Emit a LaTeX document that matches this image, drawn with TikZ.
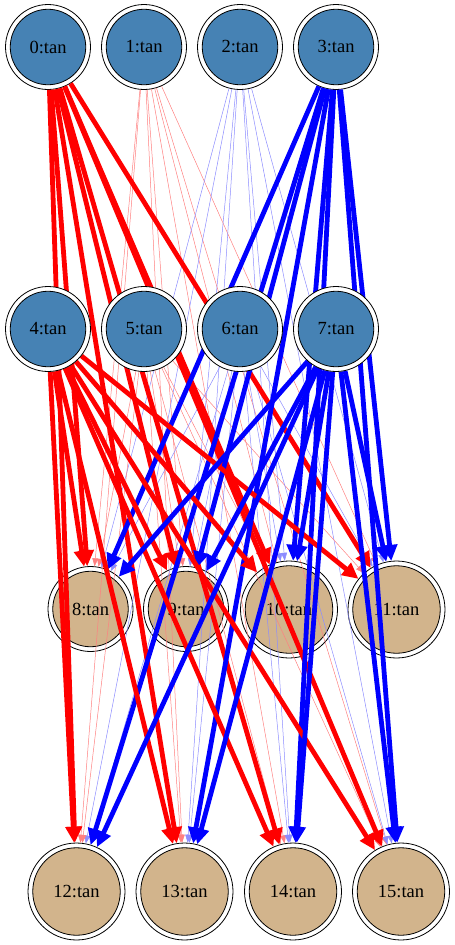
\documentclass[tikz,border=0pt]{standalone}
\usepackage{fontspec}
\setmainfont{Liberation Serif}
\usetikzlibrary{arrows.meta}
\definecolor{steelb}{HTML}{4682B4}
\definecolor{tanc}{HTML}{D2B48C}
\pgfdeclarelayer{bottom}
\pgfdeclarelayer{middle}
\pgfsetlayers{bottom,middle,main}
\tikzset{
  outerc/.style={circle, draw=black, line width=0.8pt, inner sep=0pt, fill=white},
  innerc/.style={circle, draw=black, line width=0.8pt, inner sep=0pt,
    font=\fontsize{18.5}{20}\selectfont},
  thickred/.style={draw=red, line width=4.8pt, -{Triangle[length=16pt,width=15pt]}},
  thickblue/.style={draw=blue, line width=4.8pt, -{Triangle[length=16pt,width=15pt]}},
  thinred/.style={draw=red!50, line width=0.5pt, -{Triangle[length=8pt,width=6pt]}},
  thinblue/.style={draw=blue!45, line width=0.5pt, -{Triangle[length=8pt,width=6pt]}},
}
\begin{document}
\begin{tikzpicture}[x=1pt,y=-1pt]
\useasboundingbox (0,0) rectangle (455,945);
% nodes under the edges: rows 1, 3 and 4
\begin{pgfonlayer}{bottom}
\foreach \n/\x/\y/\d/\di/\c in {
  0/48/47/85/75.5/steelb, 1/144/47/85/75.5/steelb, 2/240/47/85/75.5/steelb, 3/336/47/85/75.5/steelb,
  8/90.5/609/85/75.5/tanc, 9/186/609/85/75.5/tanc, 10/289/609.5/97/87.5/tanc, 11/396.5/609.5/97/87.5/tanc,
  12/76.5/891.5/97/87.5/tanc, 13/184.5/891.5/97/87.5/tanc, 14/293/891.5/97/87.5/tanc, 15/401/891.5/97/87.5/tanc}{
  \node[outerc, minimum size=\d pt] (n\n) at (\x,\y) {};
  \node[innerc, minimum size=\di pt, fill=\c] (n\n i) at (\x,\y) {\n:tan};
}
\end{pgfonlayer}
% row 2 nodes lie over the edges that pass them
\foreach \n/\x in {4/48, 5/144, 6/240, 7/336}{
  \node[outerc, minimum size=85pt] (n\n) at (\x,329) {};
  \node[innerc, minimum size=75.5pt, fill=steelb] (n\n i) at (\x,329) {\n:tan};
}
\begin{pgfonlayer}{middle}
\foreach \s/\st in {1/thinred, 2/thinblue, 5/thinred, 6/thinblue}
  \foreach \t in {8,...,15}
    \draw[\st] (n\s) -- (n\t);
\foreach \s/\st in {0/thickred, 3/thickblue, 4/thickred, 7/thickblue}
  \foreach \t in {8,...,15}
    \draw[\st] (n\s) -- (n\t);
\end{pgfonlayer}
\end{tikzpicture}
\end{document}
